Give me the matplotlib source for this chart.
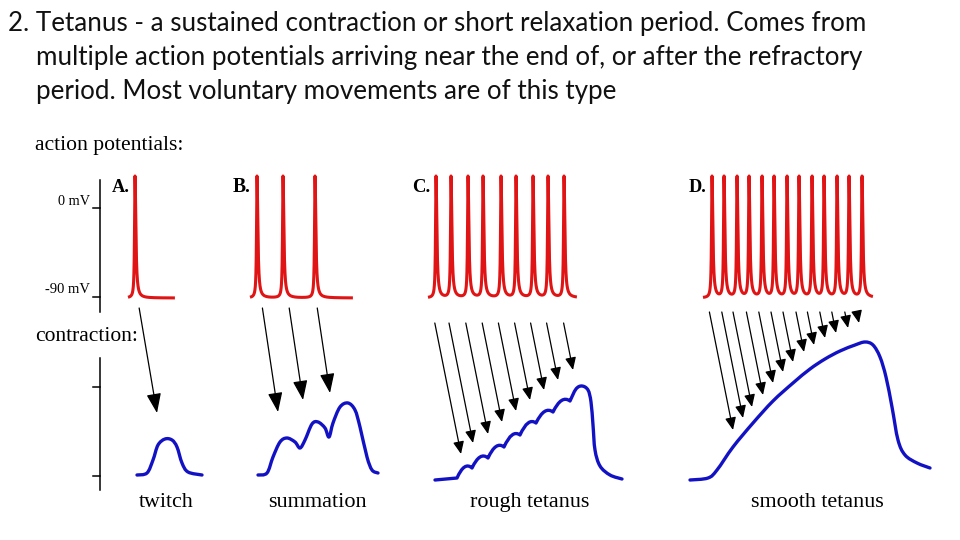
import numpy as np
import matplotlib
matplotlib.use('Agg')
import matplotlib.pyplot as plt
from matplotlib.path import Path
from matplotlib.patches import PathPatch

# ---- text ----
titleLines = ['2. Tetanus - a sustained contraction or short relaxation period. Comes from',
              'multiple action potentials arriving near the end of, or after the refractory',
              'period. Most voluntary movements are of this type']
panelLetters = ['A.', 'B.', 'C.', 'D.']
panelNames = ['twitch', 'summation', 'rough tetanus', 'smooth tetanus']
voltLabels = ['0 mV', '-90 mV']

# ---- action potentials (spike times, picture x units) ----
spikesA = [135]
spikesB = [257, 283, 315]
spikesC = [436, 451, 468, 483, 501, 516, 533, 548, 564]
spikesD = [712, 724, 737, 749, 762, 774, 787, 799, 812, 824, 837, 849, 862]
traceSpans = [(128, 175), (250, 353), (428, 577), (703, 873)]
restLevel = 298
peakLevel = 176

# ---- contraction curves ----
twitchX = [137, 147, 153, 158, 165, 172, 177, 182, 188, 202]
twitchY = [475, 473, 460, 445, 439, 440, 447, 463, 472, 475]

summX = [258, 267, 273, 280, 287, 295, 300, 305, 312, 318, 325, 329, 333, 340, 348, 355, 360, 367, 372, 378]
summY = [475, 473, 457, 442, 438, 442, 448, 440, 424, 422, 428, 437, 423, 407, 403, 410, 427, 457, 470, 473]

roughStartX = [435, 457]
roughStartY = [480, 478]
roughCuspX = [457, 472, 488, 504, 520, 536, 553, 570]
roughCuspY = [478, 468, 458, 447, 435, 423, 412, 401]
roughPeakY = [467, 457, 446.5, 435, 423, 411.5, 400.5]
roughTailX = [570, 576, 582, 588, 591, 593, 595, 600, 610, 622]
roughTailY = [401, 389, 386, 390, 402, 425, 450, 466, 475, 479]

smoothX = [690, 708, 717, 733, 753, 773, 793, 810, 825, 840, 855, 865, 873, 880, 886, 892, 898, 905, 917, 930]
smoothY = [480, 478, 470, 447, 423, 401, 383, 369, 359, 351, 345, 342, 345, 357, 377, 407, 440, 455, 463, 468]

# ---- arrows (tip points; arrows start below the spike trace) ----
arrowTipsA = [(157, 413)]
arrowTipsB = [(278, 412), (303, 400), (330, 393)]
arrowTipsC = [(461, 454), (473, 443), (488, 434), (502, 422), (516, 411), (530, 400),
              (544, 390), (558, 380), (573, 370)]
arrowTipsD = [(733, 430), (743, 418), (752, 407), (763, 395), (773, 383), (783, 372), (793, 362),
              (804, 352), (814, 345), (825, 338), (836, 333), (848, 328), (859, 323)]

RED = '#e01414'
BLUE = '#1212c4'

fig = plt.figure(figsize=(9.6, 5.4), dpi=100)
ax = fig.add_axes([0, 0, 1, 1])
ax.set_xlim(0, 960)
ax.set_ylim(540, 0)
ax.axis('off')
renderer = fig.canvas.get_renderer()


def fitText(x, y, s, width, **kw):
    t = ax.text(x, y, s, **kw)
    w = t.get_window_extent(renderer).width
    t.set_fontsize(t.get_fontsize() * width / w)
    return t


def smoothPath(xs, ys, start=True):
    pts = np.column_stack([xs, ys]).astype(float)
    ext = np.vstack([pts[0], pts, pts[-1]])
    verts, codes = [], []
    if start:
        verts.append(pts[0])
        codes.append(Path.MOVETO)
    for i in range(1, len(ext) - 2):
        p0, p1, p2, p3 = ext[i - 1], ext[i], ext[i + 1], ext[i + 2]
        verts += [p1 + (p2 - p0) / 6, p2 - (p3 - p1) / 6, p2]
        codes += [Path.CURVE4] * 3
    return verts, codes


def drawCurve(verts, codes):
    ax.add_patch(PathPatch(Path(verts, codes), fill=False, edgecolor=BLUE, lw=2.4,
                           capstyle='round', joinstyle='round'))


def spikeTrace(spikes, x0, x1):
    x = np.arange(x0, x1, 0.1)
    v = np.zeros_like(x)
    for s in spikes:
        d = x - s
        w = np.where(d < 0, 0.55, 1.0)
        v += 1.0 / (1.0 + (d / w) ** 2)
    return x, restLevel - (restLevel - peakLevel) * np.minimum(v, 1.0)


# title
t0 = fitText(8, 31, titleLines[0], 860, family='Lato', fontsize=16, color='#111111')
fs = t0.get_fontsize()
ax.text(36, 65, titleLines[1], family='Lato', fontsize=fs, color='#111111')
ax.text(36, 99, titleLines[2], family='Lato', fontsize=fs, color='#111111')

serif = 'Liberation Serif'
fitText(35, 150, 'action potentials:', 148, family=serif, fontsize=16)
fitText(35, 341, 'contraction:', 103, family=serif, fontsize=16)

# axes lines
for top, bot, ticks in [(180, 312, (208, 297)), (358, 490, (387, 476))]:
    ax.plot([100, 100], [top, bot], color='k', lw=1.1)
    for ty in ticks:
        ax.plot([93, 100], [ty, ty], color='k', lw=1.1)
fitText(90, 205, voltLabels[0], 32, family=serif, fontsize=12, ha='right')
fitText(90, 293, voltLabels[1], 45, family=serif, fontsize=12, ha='right')

# panel letters
for lx, s in zip([112, 233, 412, 689], panelLetters):
    fitText(lx, 192, s, 18, family=serif, fontsize=12, fontweight='bold')

# spikes
for spikes, (x0, x1) in zip([spikesA, spikesB, spikesC, spikesD], traceSpans):
    x, y = spikeTrace(spikes, x0, x1)
    ax.plot(x, y, color=RED, lw=2.2, solid_capstyle='butt')

# arrows
for tips, startY, slope, hl, hw in [(arrowTipsA, 308, 0.17, 1.2, 0.45), (arrowTipsB, 308, 0.15, 1.2, 0.45),
                                     (arrowTipsC, 323, 0.2, 0.75, 0.33), (arrowTipsD, 312, 0.2, 0.75, 0.33)]:
    for tx, ty in tips:
        sx = tx - slope * (ty - startY)
        ax.annotate('', xy=(tx, ty), xytext=(sx, startY),
                    arrowprops=dict(arrowstyle='-|>,head_length=%s,head_width=%s' % (hl, hw),
                                    mutation_scale=10, color='k', lw=0.9,
                                    shrinkA=0, shrinkB=0))

# contraction curves
drawCurve(*smoothPath(twitchX, twitchY))
drawCurve(*smoothPath(summX, summY))
drawCurve(*smoothPath(smoothX, smoothY))

verts = [(roughStartX[0], roughStartY[0]), (roughStartX[1], roughStartY[1])]
codes = [Path.MOVETO, Path.LINETO]
for i in range(len(roughPeakY)):
    p0 = np.array([roughCuspX[i], roughCuspY[i]], float)
    p1 = np.array([roughCuspX[i + 1], roughCuspY[i + 1]], float)
    peak = np.array([(p0[0] + p1[0]) / 2, roughPeakY[i]])
    verts += [2 * peak - (p0 + p1) / 2, p1]
    codes += [Path.CURVE3, Path.CURVE3]
tv, tc = smoothPath(roughTailX, roughTailY, start=False)
drawCurve(verts + tv, codes + tc)

# panel names
for cx, s, w in zip([166, 317, 530, 817], panelNames, [55, 99, 120, 133]):
    fitText(cx, 507, s, w, family=serif, fontsize=16, ha='center')

fig.savefig('out.png', dpi=100)
